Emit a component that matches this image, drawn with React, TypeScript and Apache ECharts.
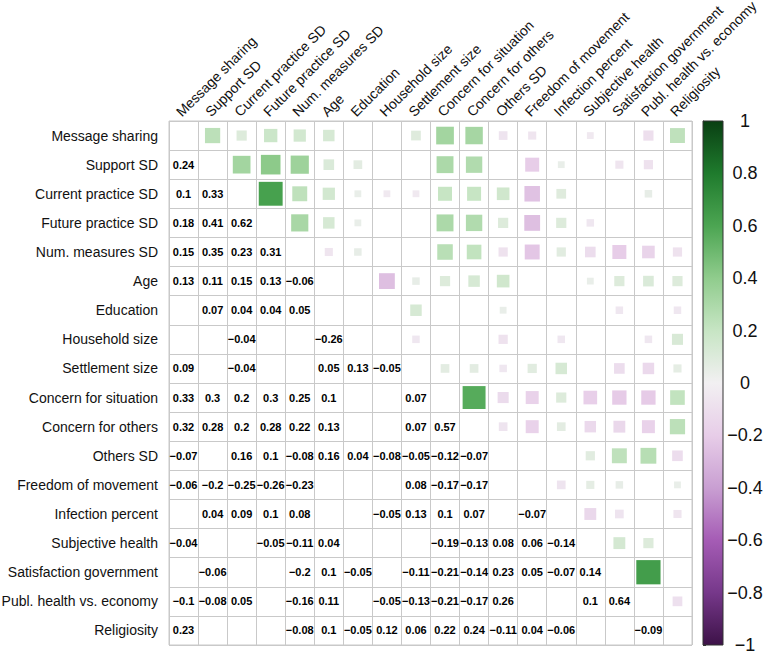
import React, { useEffect, useRef } from 'react';
import * as echarts from 'echarts';

const variables = [
  'Message sharing',
  'Support SD',
  'Current practice SD',
  'Future practice SD',
  'Num. measures SD',
  'Age',
  'Education',
  'Household size',
  'Settlement size',
  'Concern for situation',
  'Concern for others',
  'Others SD',
  'Freedom of movement',
  'Infection percent',
  'Subjective health',
  'Satisfaction government',
  'Publ. health vs. economy',
  'Religiosity',
];

// Lower triangle: row i holds r(i, 0..i-1); null = not shown (not significant)
const rowSupportSD = [0.24];
const rowCurrentPractice = [0.1, 0.33];
const rowFuturePractice = [0.18, 0.41, 0.62];
const rowNumMeasures = [0.15, 0.35, 0.23, 0.31];
const rowAge = [0.13, 0.11, 0.15, 0.13, -0.06];
const rowEducation = [null, 0.07, 0.04, 0.04, 0.05, null];
const rowHousehold = [null, null, -0.04, null, null, -0.26, null];
const rowSettlement = [0.09, null, -0.04, null, null, 0.05, 0.13, -0.05];
const rowConcernSituation = [0.33, 0.3, 0.2, 0.3, 0.25, 0.1, null, null, 0.07];
const rowConcernOthers = [0.32, 0.28, 0.2, 0.28, 0.22, 0.13, null, null, 0.07, 0.57];
const rowOthersSD = [-0.07, null, 0.16, 0.1, -0.08, 0.16, 0.04, -0.08, -0.05, -0.12, -0.07];
const rowFreedom = [-0.06, -0.2, -0.25, -0.26, -0.23, null, null, null, 0.08, -0.17, -0.17, null];
const rowInfection = [null, 0.04, 0.09, 0.1, 0.08, null, null, -0.05, 0.13, 0.1, 0.07, null, -0.07];
const rowSubjHealth = [-0.04, null, null, -0.05, -0.11, 0.04, null, null, null, -0.19, -0.13, 0.08, 0.06, -0.14];
const rowSatisfaction = [null, -0.06, null, null, -0.2, 0.1, -0.05, null, -0.11, -0.21, -0.14, 0.23, 0.05, -0.07, 0.14];
const rowPublHealth = [-0.1, -0.08, 0.05, null, -0.16, 0.11, null, -0.05, -0.13, -0.21, -0.17, 0.26, null, null, 0.1, 0.64];
const rowReligiosity = [0.23, null, null, null, -0.08, 0.1, -0.05, 0.12, 0.06, 0.22, 0.24, -0.11, 0.04, -0.06, null, null, -0.09];

const lowerRows: (number | null)[][] = [
  [],
  rowSupportSD,
  rowCurrentPractice,
  rowFuturePractice,
  rowNumMeasures,
  rowAge,
  rowEducation,
  rowHousehold,
  rowSettlement,
  rowConcernSituation,
  rowConcernOthers,
  rowOthersSD,
  rowFreedom,
  rowInfection,
  rowSubjHealth,
  rowSatisfaction,
  rowPublHealth,
  rowReligiosity,
];

// Diverging palette from -1 (purple) to +1 (green)
const palette = [
  '#3d1248', '#76388a', '#a55cb5', '#c99fd2', '#e7cde8', '#f2f0f2',
  '#c7e5c4', '#90cc8d', '#4ca552', '#1f7b2d', '#093f13',
];

const FONT = '"Liberation Sans", Arial, Helvetica, sans-serif';
const fmt = (v: number) => {
  const s = String(Number(v.toFixed(2)));
  return s.replace('-', '\u2212');
};

export default function App() {
  const ref = useRef<HTMLDivElement>(null);
  useEffect(() => {
    if (!ref.current) return;
    const chart = echarts.init(ref.current, undefined, { renderer: 'svg' });

    const squares: number[][] = [];
    const numbers: number[][] = [];
    lowerRows.forEach((row, i) => {
      row.forEach((v, j) => {
        if (v === null || v === undefined) return;
        numbers.push([j, i, v]);
        squares.push([i, j, v]);
      });
    });

    const stops = palette
      .slice()
      .reverse()
      .map((c, k) => ({ offset: k / (palette.length - 1), color: c }));

    const gridLeft = 169;
    const gridTop = 121;
    const gridW = 523;
    const gridH = 524;

    chart.setOption({
      animation: false,
      backgroundColor: '#fff',
      textStyle: { fontFamily: FONT },
      grid: [
        {
          left: gridLeft, top: gridTop, width: gridW, height: gridH,
          show: true, borderColor: '#c9c9c9', borderWidth: 1,
          containLabel: false, outerBoundsMode: 'none',
        },
        {
          left: 703, top: gridTop, width: 20, height: gridH,
          containLabel: false, outerBoundsMode: 'none',
        },
      ],
      visualMap: {
        show: false,
        type: 'continuous',
        min: -1,
        max: 1,
        dimension: 2,
        seriesIndex: 0,
        inRange: { color: palette },
      },
      xAxis: [
        {
          gridIndex: 0,
          type: 'category',
          data: variables,
          position: 'top',
          axisLine: { show: false },
          axisTick: { show: false },
          splitLine: { show: true, interval: 0, lineStyle: { color: '#c9c9c9', width: 1 } },
          axisLabel: {
            interval: 0,
            rotate: -45,
            align: 'left',
            verticalAlign: 'bottom',
            margin: 2,
            fontSize: 14,
            color: '#111',
            fontFamily: FONT,
          },
        },
        { gridIndex: 1, type: 'value', min: 0, max: 1, show: false },
      ],
      yAxis: [
        {
          gridIndex: 0,
          type: 'category',
          data: variables,
          inverse: true,
          axisLine: { show: false },
          axisTick: { show: false },
          splitLine: { show: true, interval: 0, lineStyle: { color: '#c9c9c9', width: 1 } },
          axisLabel: {
            interval: 0,
            margin: 11,
            fontSize: 14,
            color: '#111',
            fontFamily: FONT,
          },
        },
        {
          gridIndex: 1,
          type: 'value',
          min: -1,
          max: 1,
          interval: 0.2,
          position: 'right',
          splitLine: { show: false },
          axisLine: { show: true, lineStyle: { color: '#333', width: 1 } },
          axisTick: { show: true, inside: false, length: 3, lineStyle: { color: '#333' } },
          axisLabel: {
            margin: 22,
            align: 'center',
            fontSize: 18,
            color: '#111',
            fontFamily: FONT,
            formatter: (v: number) => fmt(v),
          },
        },
      ],
      series: [
        {
          type: 'custom',
          xAxisIndex: 0,
          yAxisIndex: 0,
          data: squares,
          encode: { x: 0, y: 1 },
          renderItem: (params: any, api: any) => {
            const c = api.coord([api.value(0), api.value(1)]);
            const size = api.size([1, 1]);
            const v = api.value(2);
            const s = Math.sqrt(Math.abs(v)) * size[0] + 1;
            return {
              type: 'rect',
              shape: { x: c[0] - s / 2, y: c[1] - s / 2, width: s, height: s },
              style: { fill: api.visual('color') },
            };
          },
        },
        {
          type: 'custom',
          xAxisIndex: 0,
          yAxisIndex: 0,
          data: numbers,
          encode: { x: 0, y: 1 },
          renderItem: (params: any, api: any) => {
            const c = api.coord([api.value(0), api.value(1)]);
            const v = api.value(2);
            return {
              type: 'text',
              x: c[0],
              y: c[1],
              style: {
                text: fmt(v),
                fill: '#000',
                fontSize: 11,
                fontWeight: 'bold',
                fontFamily: FONT,
                align: 'center',
                verticalAlign: 'middle',
              },
            };
          },
        },
        {
          type: 'custom',
          xAxisIndex: 1,
          yAxisIndex: 1,
          data: [[0, 0]],
          encode: { x: 0, y: 1 },
          renderItem: (params: any, api: any) => {
            const p0 = api.coord([0, 1]);
            const p1 = api.coord([1, -1]);
            return {
              type: 'rect',
              shape: { x: p0[0], y: p0[1], width: p1[0] - p0[0], height: p1[1] - p0[1] },
              style: {
                fill: new echarts.graphic.LinearGradient(0, 0, 0, 1, stops),
                stroke: '#333',
                lineWidth: 1,
              },
            };
          },
        },
      ],
    });
    return () => chart.dispose();
  }, []);
  return (
    <div
      ref={ref}
      style={{ position: 'fixed', left: 0, top: 0, width: 764, height: 651, background: '#fff' }}
    />
  );
}
